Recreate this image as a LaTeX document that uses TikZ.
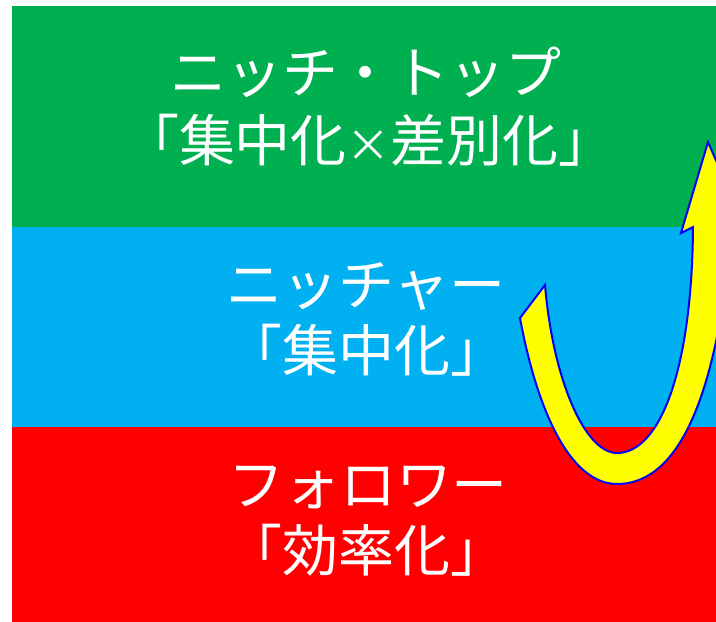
\documentclass[tikz,border=0pt]{standalone}
\usepackage{fontspec}
\setmainfont{Noto Sans CJK JP}
\definecolor{bandgreen}{HTML}{00B050}
\definecolor{bandblue}{HTML}{00B0F0}
\definecolor{bandred}{HTML}{FF0000}
\definecolor{arrowfill}{HTML}{FFFF00}
\definecolor{arrowedge}{HTML}{0000FF}
\begin{document}
\begin{tikzpicture}[x=1pt,y=-1pt,
  bandtext/.style={text=white, font=\fontsize{56}{66}\selectfont, inner sep=0pt, text height=0.88em, text depth=0.12em},
  bandbox/.style={draw=none, inner sep=0pt, anchor=north west},
  uarrow/.style={draw=arrowedge, fill=arrowfill, line width=2pt, line join=miter}]
\useasboundingbox (0,0) rectangle (716,622);
\fill[white] (0,0) rectangle (716,622);
\node[bandbox, fill=bandgreen, minimum width=704pt, minimum height=221pt] (green) at (12,6) {};
\node[bandbox, fill=bandblue, minimum width=704pt, minimum height=200pt] (blue) at (12,227) {};
\node[bandbox, fill=bandred, minimum width=704pt, minimum height=195pt] (red) at (12,427) {};
\node[bandtext] (t1a) at (366,90) {ニッチ・トップ};
\node[bandtext] (t1b) at (369,158) {「集中化{\fontsize{44}{66}\selectfont ×}差別化」};
\node[bandtext] (t2a) at (366,302) {ニッチャー};
\node[bandtext] (t2b) at (366,368) {「集中化」};
\node[bandtext] (t3a) at (368,502) {フォロワー};
\node[bandtext] (t3b) at (366,568) {「効率化」};
\begin{scope}
\clip (12,6) rectangle (716,622);
\draw[uarrow] (545,285) .. controls (553,380) and (585,453) .. (617,453)
  .. controls (660,453) and (692,370) .. (693,227)
  -- (681,233) -- (708,142) -- (746,229) -- (731,232) -- (730,250)
  .. controls (712,420) and (670,484) .. (617,484)
  .. controls (570,484) and (537,410) .. (520,318) -- cycle;
\end{scope}
\end{tikzpicture}
\end{document}
